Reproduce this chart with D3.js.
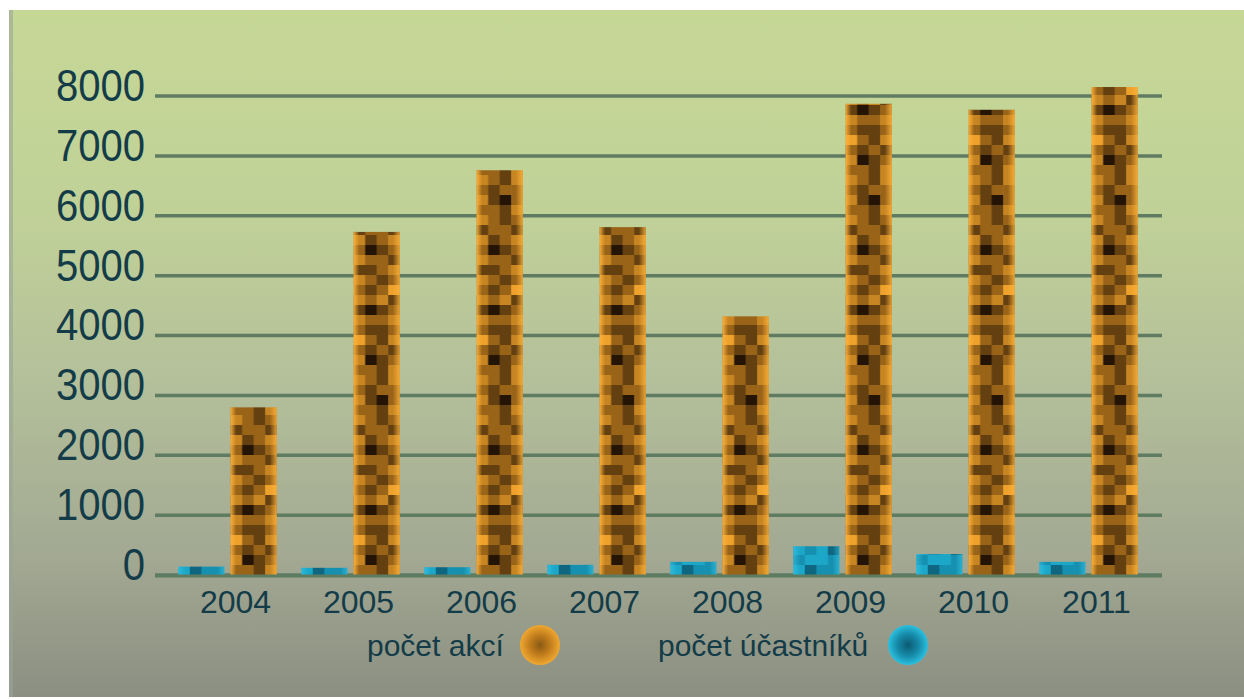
<!DOCTYPE html>
<html><head><meta charset="utf-8">
<script src="https://cdn.jsdelivr.net/npm/d3@7"></script>
<style>html,body{margin:0;padding:0;background:#fff;}svg{display:block;}</style>
</head><body>
<svg id="c" width="1244" height="699"></svg>
<script>
const years = ["2004","2005","2006","2007","2008","2009","2010","2011"];
const pocetAkci = [2800, 5730, 6760, 5810, 4320, 7870, 7770, 8150];
const pocetUcastniku = [140, 120, 130, 170, 220, 480, 350, 220];
const yTicks = [0,1000,2000,3000,4000,5000,6000,7000,8000];
const seriesNames = ["počet účastníků","počet akcí"];
const legendLabels = ["počet akcí","počet účastníků"];

// texture grid (purely decorative)
const TEX = ["bcdb","cdcc","bdec","ccdb","bcdc","dccd","bdcb","cedc","bccd","ddcb","bcdc","cdca","bcbd","dedc","bccb","cddc","acdb","cdcd","bedc","ccdb"];
const TEXC = ["bcdb","cbcc","ddcb","bcbd","cbbc","bdcc"];
const palOrange = {a:"#eea22c",b:"#c88622",c:"#9a6418",d:"#644010",e:"#241406"};
const palCyan = {a:"#2cc0e0",b:"#1ca6c8",c:"#1690b0",d:"#0e6680",e:"#06303e"};

const svg = d3.select("#c");
const defs = svg.append("defs");
const textCol = "#143c48";
const font = "'Liberation Sans', Arial, sans-serif";

// background
const bg = defs.append("linearGradient").attr("id","bg").attr("x1",0).attr("y1",0).attr("x2",0).attr("y2",1);
[[0,"#c6d896"],[0.3,"#c0d198"],[0.55,"#b3bf9a"],[0.8,"#a2a892"],[1,"#8b8f82"]].forEach(s=>bg.append("stop").attr("offset",s[0]).attr("stop-color",s[1]));
svg.append("rect").attr("x",9).attr("y",10).attr("width",1235).attr("height",687).attr("fill","url(#bg)");
svg.append("rect").attr("x",9).attr("y",10).attr("width",4).attr("height",687).attr("fill","#9aa598").attr("opacity",0.6);

const x0 = d3.scaleBand().domain(years).range([166,1150]).paddingInner(0.2).paddingOuter(0.1);
const x1 = d3.scaleBand().domain(seriesNames).range([0,x0.bandwidth()]).paddingInner(0.12);
const y = d3.scaleLinear().domain([0,8000]).range([575,96]);

// grid
svg.append("g").selectAll("line").data(yTicks).join("line")
  .attr("x1",155).attr("x2",1162).attr("y1",d=>y(d)).attr("y2",d=>y(d))
  .attr("stroke","#5f7c62").attr("stroke-width",3.5);

// y labels
svg.append("g").selectAll("text").data(yTicks).join("text")
  .attr("x",145).attr("y",d=>y(d)+5).attr("text-anchor","end")
  .attr("font-family",font).attr("font-size",45).attr("fill",textCol)
  .attr("transform",`translate(145,0) scale(0.89,1) translate(-145,0)`)
  .text(d=>d);

// patterns (local coordinates of each group)
function makePattern(id, pal, tex, offsetX){
  const bw = x1.bandwidth(), cw = bw/4, rh = 10;
  const p = defs.append("pattern").attr("id",id).attr("patternUnits","userSpaceOnUse")
    .attr("x",offsetX).attr("y",575).attr("width",bw).attr("height",tex.length*rh);
  tex.forEach((row,ri)=>{
    row.split("").forEach((ch,ci)=>{
      p.append("rect").attr("x",ci*cw).attr("y",ri*rh).attr("width",cw+0.6).attr("height",rh+0.6).attr("fill",pal[ch]);
    });
  });
}
makePattern("texO", palOrange, TEX, x1(seriesNames[1]));
makePattern("texC", palCyan, TEXC, x1(seriesNames[0]));

const shO = defs.append("linearGradient").attr("id","shO");
[[0,"#ffb23a",0.9],[0.12,"#ffb23a",0],[0.85,"#ffb23a",0],[1,"#ffb23a",0.8]].forEach(s=>shO.append("stop").attr("offset",s[0]).attr("stop-color",s[1]).attr("stop-opacity",s[2]));
const shC = defs.append("linearGradient").attr("id","shC");
[[0,"#40d0f0",0.5],[0.15,"#40d0f0",0],[0.85,"#40d0f0",0],[1,"#40d0f0",0.5]].forEach(s=>shC.append("stop").attr("offset",s[0]).attr("stop-color",s[1]).attr("stop-opacity",s[2]));

const rows = years.map((yr,i)=>({yr, vals:[{s:seriesNames[0],v:pocetUcastniku[i]},{s:seriesNames[1],v:pocetAkci[i]}]}));
const g = svg.append("g").selectAll("g").data(rows).join("g").attr("transform",d=>`translate(${x0(d.yr)},0)`);
const bars = g.selectAll("g").data(d=>d.vals).join("g");
bars.append("rect").attr("x",d=>x1(d.s)).attr("width",x1.bandwidth())
  .attr("y",d=>y(d.v)).attr("height",d=>y(0)-y(d.v))
  .attr("fill",d=>d.s===seriesNames[1]?"url(#texO)":"url(#texC)");
bars.append("rect").attr("x",d=>x1(d.s)).attr("width",x1.bandwidth())
  .attr("y",d=>y(d.v)).attr("height",d=>y(0)-y(d.v))
  .attr("fill",d=>d.s===seriesNames[1]?"url(#shO)":"url(#shC)");

// baseline on top
svg.append("line").attr("x1",155).attr("x2",1162).attr("y1",y(0)+1).attr("y2",y(0)+1).attr("stroke","#5f7c62").attr("stroke-width",3);

// x labels
svg.append("g").selectAll("text").data(years).join("text")
  .attr("x",d=>x0(d)+x0.bandwidth()/2+8).attr("y",613).attr("text-anchor","middle")
  .attr("font-family",font).attr("font-size",32).attr("fill",textCol).text(d=>d);

// legend
const rgO = defs.append("radialGradient").attr("id","lgO");
[[0,"#8a5a14"],[0.5,"#c07c1c"],[1,"#f0a830"]].forEach(s=>rgO.append("stop").attr("offset",s[0]).attr("stop-color",s[1]));
const rgC = defs.append("radialGradient").attr("id","lgC");
[[0,"#0c5a72"],[0.55,"#168aa8"],[1,"#2cc0e0"]].forEach(s=>rgC.append("stop").attr("offset",s[0]).attr("stop-color",s[1]));
const leg = [{t:legendLabels[0], tx:367, cx:540, f:"url(#lgO)"},{t:legendLabels[1], tx:658, cx:908, f:"url(#lgC)"}];
svg.append("g").selectAll("text").data(leg).join("text")
  .attr("x",d=>d.tx).attr("y",656).attr("font-family",font).attr("font-size",30).attr("fill",textCol).text(d=>d.t);
svg.append("g").selectAll("circle").data(leg).join("circle")
  .attr("cx",d=>d.cx).attr("cy",645).attr("r",20).attr("fill",d=>d.f);
</script>
</body></html>
